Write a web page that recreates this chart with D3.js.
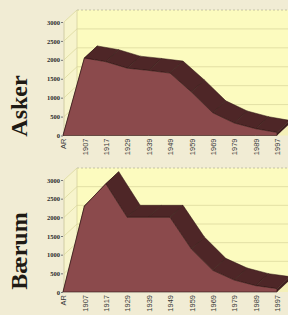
<!DOCTYPE html>
<html>
<head>
<meta charset="utf-8">
<script src="https://cdn.jsdelivr.net/npm/d3@7"></script>
<style>
  html, body { margin: 0; padding: 0; background: #f1ecd4; }
  svg { display: block; }
</style>
</head>
<body>
<div id="chart"></div>
<script>
// data
var categories = ['AR', '1907', '1917', '1929', '1939', '1949', '1959', '1969', '1979', '1989', '1997'];
var askerValues = [0, 2050, 1950, 1780, 1720, 1650, 1150, 600, 330, 180, 80];
var baerumValues = [0, 2300, 2900, 2000, 2000, 2000, 1150, 580, 320, 170, 90];
var yTicks = [0, 500, 1000, 1500, 2000, 2500, 3000];

var W = 288, H = 315;
var depth = {dx: 13, dy: -12};

var svg = d3.select('#chart').append('svg')
    .attr('width', W)
    .attr('height', H);

function drawPanel(name, values, yBottom, yTop, titleY) {
  let g = svg.append('g');
  let xScale = d3.scalePoint()
      .domain(categories)
      .range([63, 277]);
  let yScale = d3.scaleLinear()
      .domain([0, 3000])
      .range([yBottom, yTop]);
  let x0 = 64, x1 = W + 20;

  // back wall
  g.append('rect')
      .attr('x', x0 + depth.dx).attr('y', yScale(3000) + depth.dy)
      .attr('width', x1 - x0).attr('height', yScale(0) - yScale(3000))
      .style('fill', '#fcfbbf');
  // side wall
  g.append('path')
      .attr('d', d3.line()([
        [x0, yScale(0)], [x0, yScale(3000)],
        [x0 + depth.dx, yScale(3000) + depth.dy], [x0 + depth.dx, yScale(0) + depth.dy]
      ]) + 'Z')
      .style('fill', '#f7f4cc');
  // floor
  g.append('path')
      .attr('d', d3.line()([
        [x0, yScale(0)], [x1, yScale(0)],
        [x1 + depth.dx, yScale(0) + depth.dy], [x0 + depth.dx, yScale(0) + depth.dy]
      ]) + 'Z')
      .style('fill', '#f4f0b8');

  // grid lines
  yTicks.forEach(function(t) {
    let y = yScale(t);
    g.append('line')
        .attr('x1', x0 + depth.dx).attr('x2', x1)
        .attr('y1', y + depth.dy).attr('y2', y + depth.dy)
        .style('stroke', t == 3000 ? '#b9b79a' : '#dcd99e')
        .style('stroke-width', 0.8)
        .style('stroke-dasharray', t == 3000 ? '2,2' : null);
    g.append('line')
        .attr('x1', x0).attr('x2', x0 + depth.dx)
        .attr('y1', y).attr('y2', y + depth.dy)
        .style('stroke', '#dcd99e')
        .style('stroke-width', 0.8);
  });
  g.append('line')
      .attr('x1', x0 + depth.dx).attr('x2', x0 + depth.dx)
      .attr('y1', yScale(0) + depth.dy).attr('y2', yScale(3000) + depth.dy)
      .style('stroke', '#d4d1a0').style('stroke-width', 0.8);
  g.append('line')
      .attr('x1', x0).attr('x2', x0)
      .attr('y1', yScale(0)).attr('y2', yScale(3000))
      .style('stroke', '#c8c49a').style('stroke-width', 0.8);

  // extruded area: top surfaces first, then front face
  let pts = values.map(function(v, i) { return [xScale(categories[i]), yScale(v)]; });
  for (let i = 0; i < pts.length - 1; ++i) {
    let a = pts[i], b = pts[i + 1];
    g.append('path')
        .attr('d', d3.line()([
          a, b, [b[0] + depth.dx, b[1] + depth.dy], [a[0] + depth.dx, a[1] + depth.dy]
        ]) + 'Z')
        .style('fill', '#4e2627')
        .style('stroke', '#2e1414')
        .style('stroke-width', 0.5)
        .style('stroke-linejoin', 'round');
  }
  let last = pts[pts.length - 1];
  g.append('path')
      .attr('d', d3.line()([
        [last[0], yScale(0)], last, [last[0] + depth.dx, last[1] + depth.dy],
        [last[0] + depth.dx, yScale(0) + depth.dy]
      ]) + 'Z')
      .style('fill', '#3f1e1f');

  let area = d3.area()
      .x(function(d, i) { return xScale(categories[i]); })
      .y0(yScale(0))
      .y1(function(d) { return yScale(d); });
  g.append('path')
      .datum(values)
      .attr('d', area)
      .style('fill', '#8b4a4c')
      .style('stroke', '#2e1414')
      .style('stroke-width', 0.6)
      .style('stroke-linejoin', 'round');

  // y axis labels
  let yaxis = d3.axisLeft(yScale).tickValues(yTicks).tickFormat(d3.format('d'))
      .tickSize(2).tickPadding(1);
  let ya = g.append('g')
      .attr('transform', 'translate(' + (x0 - 1) + ',0)')
      .call(yaxis);
  ya.select('.domain').remove();
  ya.selectAll('line').style('stroke', '#777');
  ya.selectAll('text')
      .style('font', 'bold 6.5px "Liberation Serif", serif')
      .style('fill', '#2a2a2a');

  // x axis labels
  let xaxis = d3.axisBottom(xScale).tickSize(0).tickPadding(0);
  let xa = g.append('g')
      .attr('transform', 'translate(0,' + (yScale(0) + 2) + ')')
      .call(xaxis);
  xa.select('.domain').remove();
  xa.selectAll('text')
      .attr('transform', 'rotate(-90)')
      .attr('x', -1).attr('y', 0).attr('dy', '0.35em')
      .style('text-anchor', 'end')
      .style('font', '7.5px "Liberation Sans Narrow", "Liberation Sans", sans-serif')
      .style('fill', '#3a3a3a');

  // panel title
  svg.append('text')
      .attr('transform', 'translate(27,' + titleY + ') rotate(-90)')
      .style('text-anchor', 'middle')
      .style('font', 'bold 24px "Liberation Serif", serif')
      .style('fill', '#1e1a14')
      .text(name);
}

drawPanel('Asker', askerValues, 135.5, 22, 106);
drawPanel('Bærum', baerumValues, 292, 180, 251);
</script>
</body>
</html>
